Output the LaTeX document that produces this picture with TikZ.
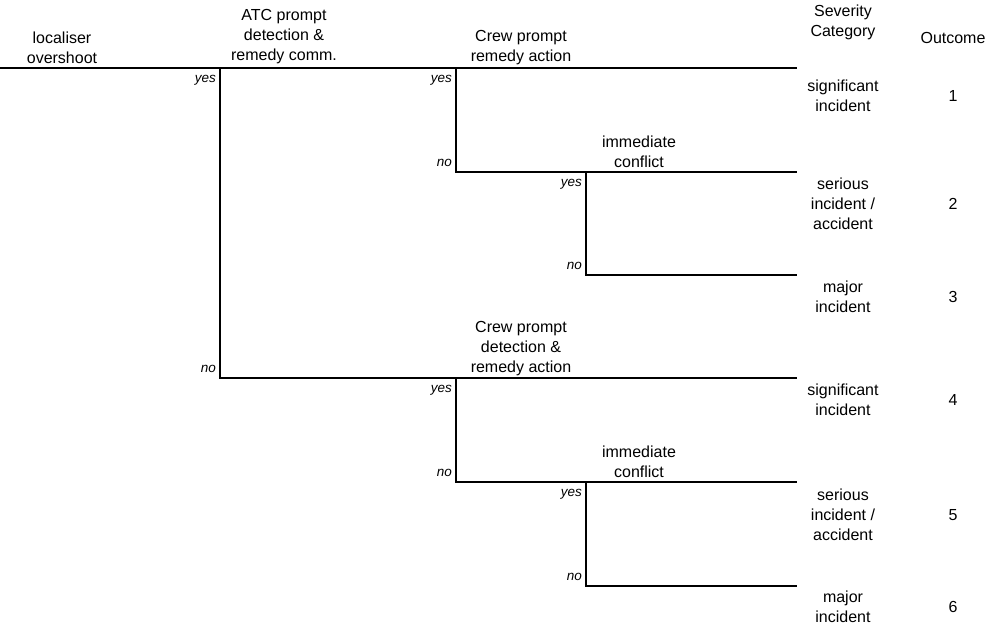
\documentclass[tikz,border=0pt]{standalone}
\usepackage{fontspec}
\setmainfont{Liberation Sans}
\usetikzlibrary{positioning}

\begin{document}
\begin{tikzpicture}[
  x=1pt, y=-1pt,
  lbl/.style={align=center, inner sep=0pt, font=\fontsize{16}{20}\selectfont},
  head/.style={lbl},
  cat/.style={lbl},
  num/.style={lbl},
  ans/.style={inner sep=0pt, font=\fontsize{13.5}{15}\selectfont\itshape},
  tree/.style={line width=2.6pt, line join=miter}
]
\useasboundingbox (0,0) rectangle (993,627);

% branch points and ends
\coordinate (start) at (0,68);
\coordinate (atc) at (220,68);
\coordinate (atcno) at (220,378);
\coordinate (crewA) at (456,68);
\coordinate (crewAno) at (456,172);
\coordinate (conA) at (586,172);
\coordinate (conAno) at (586,275);
\coordinate (crewB) at (456,378);
\coordinate (crewBno) at (456,482);
\coordinate (conB) at (586,482);
\coordinate (conBno) at (586,586);
\coordinate (end1) at (797,68);
\coordinate (end2) at (797,172);
\coordinate (end3) at (797,275);
\coordinate (end4) at (797,378);
\coordinate (end5) at (797,482);
\coordinate (end6) at (797,586);

% column headings
\node[head] (ini) at (62,47.5) {localiser\\overshoot};
\node[head] (atcq) at (284,37) {ATC prompt\\detection \&\\remedy comm.};
\node[head] (crewq1) at (521,47.5) {Crew prompt\\remedy action};
\node[head] (sevq) at (843,22) {Severity\\Category};
\node[head] (outq) at (953,38) {Outcome};
\node[head] (conq1) at (639,152) {immediate\\conflict};
\node[head] (crewq2) at (521,349) {Crew prompt\\detection \&\\remedy action};
\node[head] (conq2) at (639,462) {immediate\\conflict};

% severity and outcome
\node[cat] (cat1) at (843,95.5) {significant\\incident};
\node[cat] (cat2) at (843,204) {serious\\incident /\\accident};
\node[cat] (cat3) at (843,297) {major\\incident};
\node[cat] (cat4) at (843,400) {significant\\incident};
\node[cat] (cat5) at (843,515) {serious\\incident /\\accident};
\node[cat] (cat6) at (843,607) {major\\incident};
\node[num] (out1) at (953,95.5) {1};
\node[num] (out2) at (953,204) {2};
\node[num] (out3) at (953,297) {3};
\node[num] (out4) at (953,400) {4};
\node[num] (out5) at (953,515) {5};
\node[num] (out6) at (953,607) {6};

% tree
\draw[tree] (start) -- (end1);
\draw[tree] (atc) -- (atcno) -- (end4);
\draw[tree] (crewA) -- (crewAno) -- (end2);
\draw[tree] (conA) -- (conAno) -- (end3);
\draw[tree] (crewB) -- (crewBno) -- (end5);
\draw[tree] (conB) -- (conBno) -- (end6);

% yes / no
\node[ans, anchor=north east] (atcyes) at ([xshift=-4pt,yshift=-6.6pt]atc) {yes};
\node[ans, anchor=south east] (atcnotext) at ([xshift=-4pt,yshift=5pt]atcno) {no};
\node[ans, anchor=north east] (crewAyes) at ([xshift=-4pt,yshift=-6.6pt]crewA) {yes};
\node[ans, anchor=south east] (crewAnotext) at ([xshift=-4pt,yshift=5pt]crewAno) {no};
\node[ans, anchor=north east] (conAyes) at ([xshift=-4pt,yshift=-6.6pt]conA) {yes};
\node[ans, anchor=south east] (conAnotext) at ([xshift=-4pt,yshift=5pt]conAno) {no};
\node[ans, anchor=north east] (crewByes) at ([xshift=-4pt,yshift=-6.6pt]crewB) {yes};
\node[ans, anchor=south east] (crewBnotext) at ([xshift=-4pt,yshift=5pt]crewBno) {no};
\node[ans, anchor=north east] (conByes) at ([xshift=-4pt,yshift=-6.6pt]conB) {yes};
\node[ans, anchor=south east] (conBnotext) at ([xshift=-4pt,yshift=5pt]conBno) {no};
\end{tikzpicture}
\end{document}
